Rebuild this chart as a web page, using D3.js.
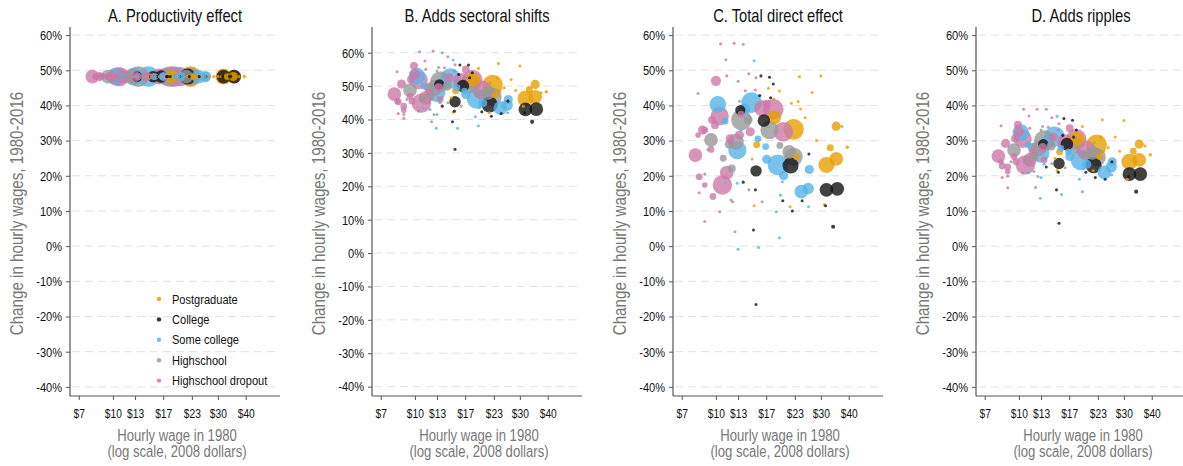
<!DOCTYPE html>
<html>
<meta charset="utf-8">
<script src="https://cdn.jsdelivr.net/npm/d3@7/dist/d3.min.js"></script>
<title>Wage changes by 1980 wage</title>
<style>
body { margin: 0; background: #fff; }
text { font-family: "Liberation Sans", Arial, sans-serif; }
</style>
<body>
<script type="text/javascript">

// rows: [hourly wage 1980, employment weight, A, B, C, D] (change in %)
var postgrad = [
    [18.4, 36, 48.2, 52.0, 36.6, 30.4],
    [22.5, 81, 48.2, 50.3, 33.2, 28.8],
    [31.7, 49, 48.2, 46.3, 23.1, 24.0],
    [35.1, 36, 48.2, 46.8, 24.8, 24.5],
    [35.1, 16, 48.2, 50.5, 34.1, 29.0],
    [15.3, 9, 48.2, 48.6, 28.8, 26.8],
    [23.2, 9, 48.2, 47.5, 25.4, 25.5],
    [33.0, 9, 48.2, 49.0, 28.0, 27.0],
    [23.9, 1.8, 48.2, 56.8, 48.2, 35.9],
    [29.9, 1.8, 48.2, 56.0, 48.4, 35.7],
    [39.4, 2.5, 48.2, 48.3, 28.1, 26.0],
    [17.3, 1.8, 48.2, 53.0, 44.9, 31.5],
    [19.4, 1.8, 48.2, 55.3, 44.1, 34.0],
    [18.3, 1.8, 48.2, 53.5, 41.8, 32.0],
    [27.3, 1.8, 48.2, 52.0, 43.7, 31.0],
    [22.0, 1.8, 48.2, 51.0, 40.6, 29.5],
    [23.6, 1.8, 48.2, 52.5, 41.1, 31.0],
    [24.2, 1.8, 48.2, 48.5, 39.0, 27.0],
    [25.4, 1.8, 48.2, 49.5, 36.5, 28.0],
    [14.9, 1.8, 48.2, 42.2, 11.5, 21.5],
    [21.7, 1.8, 48.2, 42.0, 11.2, 21.5],
    [31.0, 1.8, 48.2, 44.0, 11.8, 19.0],
    [14.6, 1.8, 48.2, 46.5, 24.8, 25.0],
    [28.6, 1.8, 48.2, 48.7, 30.0, 27.0],
    [37.3, 1.8, 48.2, 48.0, 34.0, 28.5]
];
var college = [
    [15.2, 25, 48.2, 45.3, 21.4, 23.5],
    [16.5, 30, 48.2, 50.0, 35.7, 29.0],
    [21.8, 49, 48.2, 44.5, 22.9, 23.0],
    [31.7, 36, 48.2, 43.0, 16.0, 20.5],
    [35.5, 36, 48.2, 43.1, 16.3, 20.5],
    [12.9, 20, 48.2, 50.5, 38.7, 29.0],
    [34.0, 3.2, 48.2, 39.3, 5.5, 15.5],
    [15.2, 1.8, 48.2, 31.1, -16.6, 6.5],
    [14.8, 1.8, 48.2, 39.3, 4.6, 16.0],
    [16.0, 1.8, 48.2, 56.3, 48.4, 36.3],
    [17.5, 1.8, 48.2, 56.3, 48.0, 35.8],
    [18.2, 1.8, 48.2, 54.0, 46.1, 33.0],
    [15.8, 1.8, 48.2, 53.5, 42.8, 31.5],
    [17.7, 1.8, 48.2, 52.5, 42.2, 31.0],
    [13.3, 1.8, 48.2, 44.0, 18.2, 22.5],
    [15.1, 1.8, 48.2, 42.5, 16.0, 21.0],
    [20.1, 1.8, 48.2, 42.3, 12.9, 21.0],
    [22.2, 1.8, 48.2, 41.0, 10.0, 19.5],
    [24.6, 1.8, 48.2, 41.8, 12.9, 19.0],
    [31.4, 1.8, 48.2, 42.0, 11.5, 19.8],
    [26.4, 1.8, 48.2, 45.5, 26.2, 24.0]
];
var someCollege = [
    [10.2, 53, 48.2, 53.0, 40.3, 32.3],
    [12.5, 64, 48.2, 48.0, 27.3, 26.4],
    [14.5, 81, 48.2, 52.3, 40.8, 31.1],
    [19.1, 81, 48.2, 46.3, 23.1, 24.5],
    [24.4, 36, 48.2, 43.4, 15.5, 21.0],
    [26.2, 25, 48.2, 44.3, 16.4, 22.5],
    [13.5, 25, 48.2, 51.0, 39.0, 30.0],
    [26.5, 16, 48.2, 46.0, 21.8, 24.0],
    [11.0, 9, 48.2, 50.0, 35.5, 28.8],
    [17.0, 16, 48.2, 47.5, 24.7, 25.5],
    [15.5, 9, 48.2, 49.5, 30.5, 27.8],
    [20.3, 16, 48.2, 45.0, 20.0, 23.3],
    [16.8, 9, 48.2, 48.5, 28.3, 26.8],
    [14.9, 1.8, 48.2, 57.8, 52.7, 36.9],
    [12.5, 1.8, 48.2, 37.4, 17.9, 13.6],
    [15.6, 1.8, 48.2, 37.4, -0.4, 14.7],
    [19.4, 1.8, 48.2, 38.1, 2.4, 15.5],
    [12.6, 1.8, 48.2, 41.5, -0.9, 19.5],
    [18.8, 1.8, 48.2, 40.8, 9.8, 19.0],
    [19.6, 1.8, 48.2, 43.5, 14.5, 22.0],
    [20.0, 1.8, 48.2, 44.5, 18.3, 22.8],
    [26.3, 1.8, 48.2, 42.0, 11.2, 20.3],
    [11.0, 1.8, 48.2, 43.4, 18.0, 20.9],
    [13.0, 1.8, 48.2, 45.0, 33.0, 23.3]
];
var highschool = [
    [9.5, 36, 48.2, 48.8, 30.2, 27.3],
    [13.05, 81, 48.2, 51.3, 35.9, 30.0],
    [12.3, 49, 48.2, 49.5, 29.7, 27.8],
    [17.5, 64, 48.2, 50.5, 33.0, 29.0],
    [22.5, 64, 48.2, 46.8, 25.4, 25.3],
    [21.5, 36, 48.2, 48.0, 26.8, 26.5],
    [11.5, 16, 48.2, 49.5, 29.0, 28.0],
    [14.0, 16, 48.2, 50.0, 35.9, 28.5],
    [19.5, 9, 48.2, 47.5, 28.6, 26.0],
    [11.8, 12, 48.2, 47.0, 22.1, 25.5],
    [10.8, 9, 48.2, 46.0, 25.0, 24.5],
    [13.3, 1.8, 48.2, 60.0, 57.4, 38.9],
    [12.6, 1.8, 48.2, 54.5, 46.9, 33.0],
    [12.8, 1.8, 48.2, 55.6, 41.2, 34.0],
    [11.9, 1.8, 48.2, 39.3, 12.6, 16.7],
    [11.7, 1.8, 48.2, 43.0, 13.1, 21.2],
    [12.2, 1.8, 48.2, 41.5, 4.1, 19.8],
    [14.1, 1.8, 48.2, 45.0, 16.0, 23.5],
    [16.2, 1.8, 48.2, 44.0, 12.6, 22.3],
    [9.2, 1.8, 48.2, 46.0, 27.5, 24.0]
];
var dropout = [
    [8.07, 36, 48.2, 47.6, 25.9, 25.6],
    [10.4, 64, 48.2, 51.8, 37.0, 30.5],
    [10.7, 72, 48.2, 44.9, 17.4, 23.1],
    [11.2, 36, 48.2, 46.5, 20.9, 24.5],
    [16.2, 49, 48.2, 51.5, 39.2, 29.5],
    [18.2, 81, 48.2, 51.8, 38.9, 30.4],
    [20.2, 72, 48.2, 48.8, 32.5, 27.2],
    [9.6, 12, 48.2, 52.0, 35.9, 30.6],
    [8.9, 9, 48.2, 44.0, 33.0, 22.5],
    [8.7, 16, 48.2, 50.6, 33.0, 29.2],
    [9.9, 12, 48.2, 56.0, 34.4, 34.5],
    [8.3, 6, 48.2, 45.5, 31.6, 24.0],
    [11.6, 16, 48.2, 48.0, 30.5, 26.5],
    [8.4, 9, 48.2, 45.3, 19.7, 22.8],
    [12.8, 16, 48.2, 49.5, 31.6, 28.0],
    [14.3, 16, 48.2, 52.5, 32.5, 31.0],
    [17.0, 12, 48.2, 55.0, 40.5, 33.5],
    [13.0, 9, 48.2, 46.0, 37.5, 24.5],
    [9.7, 9, 48.2, 45.5, 14.1, 24.0],
    [8.9, 6, 48.2, 42.8, 17.4, 21.2],
    [9.5, 9, 48.2, 47.0, 27.5, 25.5],
    [10.0, 20, 48.2, 53.5, 47.0, 32.5],
    [10.5, 1.8, 48.2, 60.3, 57.5, 38.9],
    [12.1, 1.8, 48.2, 60.5, 57.7, 38.9],
    [11.1, 1.8, 48.2, 57.5, 53.0, 37.0],
    [8.3, 1.8, 48.2, 54.3, 43.4, 34.2],
    [11.2, 1.8, 48.2, 55.0, 48.4, 33.5],
    [15.2, 1.8, 48.2, 56.4, 47.9, 34.8],
    [13.6, 1.8, 48.2, 55.5, 44.2, 33.8],
    [15.1, 1.8, 48.2, 54.5, 44.4, 33.0],
    [8.4, 1.8, 48.2, 41.8, 15.2, 19.5],
    [8.9, 1.8, 48.2, 41.5, 20.5, 19.9],
    [8.9, 1.8, 48.2, 40.4, 7.0, 16.6],
    [10.4, 1.8, 48.2, 42.5, 9.8, 20.8],
    [14.1, 1.8, 48.2, 58.8, 49.0, 36.5]
];

var groups = [
    {name: "Postgraduate", color: "#E69F00", rows: postgrad},
    {name: "College", color: "#111111", rows: college},
    {name: "Some college", color: "#56B4E9", rows: someCollege},
    {name: "Highschool", color: "#999999", rows: highschool},
    {name: "Highschool dropout", color: "#CC79A7", rows: dropout}
];

var titles = ["A. Productivity effect", "B. Adds sectoral shifts",
              "C. Total direct effect", "D. Adds ripples"];
var yDomains = [[-42.6, 62.3], [-42.8, 67.7], [-42.6, 62.3], [-42.6, 62.3]];
var yTicks = [-40, -30, -20, -10, 0, 10, 20, 30, 40, 50, 60];
var xTicks = [7, 10, 12.6, 16.9, 22.8, 29.9, 40];
var xTickLabels = ["$7", "$10", "$13", "$17", "$23", "$30", "$40"];

var size = { width: 1183, height: 466 };
var panelLeft = [70, 372, 673, 976];
var plot = { top: 27, bottom: 396, width: 210 };
var NARROW = 0.82;   // condensed look of the original font

var svg = d3.select("body").append("svg")
    .attr("width", size.width)
    .attr("height", size.height);

var rScale = d3.scaleSqrt().domain([0, 81]).range([0, 10.3]);

var points = [];
groups.forEach(function(g) {
    g.rows.forEach(function(r) {
        points.push({group: g, wage: r[0], w: r[1], y: r.slice(2)});
    });
});
points.sort(function(a, b) { return b.w - a.w; });

function label(parent, x, y, str, fs, color, anchor, rot) {
    return parent.append("text")
        .attr("transform", "translate(" + x + "," + y + ")" +
            (rot ? " rotate(" + rot + ")" : "") + " scale(" + NARROW + ",1)")
        .attr("text-anchor", anchor || "start")
        .style("font-size", fs + "px")
        .style("fill", color)
        .text(str);
}

titles.forEach(function(title, i) {
    var g = svg.append("g")
        .attr("transform", "translate(" + panelLeft[i] + ",0)");

    var x = d3.scaleLog().domain([6.39, 57.2]).range([0, plot.width]);
    var y = d3.scaleLinear().domain(yDomains[i]).range([plot.bottom, plot.top]);

    // grid
    g.append("g").selectAll("line")
        .data(yTicks).enter().append("line")
        .attr("x1", 2).attr("x2", plot.width)
        .attr("y1", function(d) { return y(d); })
        .attr("y2", function(d) { return y(d); })
        .style("stroke", "#e2e2e2")
        .style("stroke-dasharray", "8,5");

    var yAxis = g.append("g")
        .call(d3.axisLeft(y).tickValues(yTicks).tickSize(4).tickPadding(4)
            .tickFormat(function(d) { return d + "%"; }));
    yAxis.select(".domain").attr("d", "M0," + plot.top + "V" + plot.bottom);
    yAxis.selectAll(".tick text")
        .attr("x", -8 / NARROW)
        .attr("transform", "scale(" + NARROW + ",1)")
        .style("font-size", "13.5px");

    var xAxis = g.append("g")
        .attr("transform", "translate(0," + plot.bottom + ")")
        .call(d3.axisBottom(x).tickValues(xTicks).tickSize(4).tickPadding(9)
            .tickFormat(function(d, k) { return xTickLabels[k]; }));
    xAxis.select(".domain").attr("d", "M0,0H" + plot.width);
    xAxis.selectAll(".tick text")
        .attr("transform", "scale(" + NARROW + ",1)")
        .style("font-size", "12.5px");

    [yAxis, xAxis].forEach(function(a) {
        a.select(".domain").style("stroke", "#555").style("stroke-width", 1.2);
        a.selectAll(".tick line").style("stroke", "#555");
        a.selectAll(".tick text").style("fill", "#111");
        a.attr("font-family", null);
    });

    g.append("g").selectAll("circle")
        .data(points).enter().append("circle")
        .attr("cx", function(d) { return x(d.wage); })
        .attr("cy", function(d) { return y(d.y[i]); })
        .attr("r", function(d) { return rScale(d.w); })
        .style("fill", function(d) { return d.group.color; })
        .style("fill-opacity", 0.8);

    label(g, plot.width / 2, 21.5, title, 18, "#111", "middle");

    label(g, -47, (plot.top + plot.bottom) / 2 + 2,
        "Change in hourly wages, 1980-2016", 18.5, "#777", "middle", -90);

    label(g, plot.width / 2 + 2, 441, "Hourly wage in 1980", 16, "#777", "middle");
    label(g, plot.width / 2 + 2, 456.5, "(log scale, 2008 dollars)", 16, "#777", "middle");

    if (i == 0) {
        var legend = g.append("g").selectAll("g")
            .data(groups).enter().append("g")
            .attr("transform", function(d, k) {
                return "translate(89," + (299 + k * 20.4) + ")";
            });
        legend.append("circle").attr("r", 2.2)
            .style("fill", function(d) { return d.color; })
            .style("fill-opacity", 0.85);
        legend.each(function(d) {
            label(d3.select(this), 13, 4.6, d.name, 13.5, "#111", "start");
        });
    }
});
</script>
</body>
</html>
